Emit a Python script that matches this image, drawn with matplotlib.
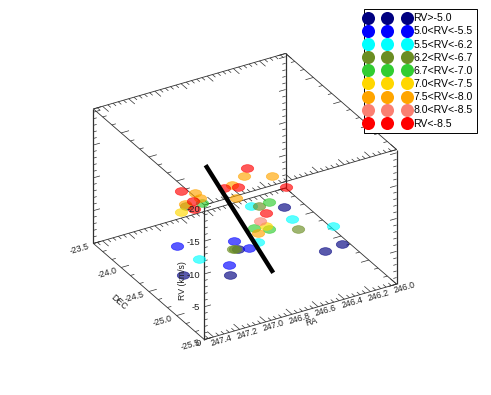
import numpy as np
import matplotlib
matplotlib.use('Agg')
import matplotlib.pyplot as plt
from matplotlib.lines import Line2D
from matplotlib.path import Path
from matplotlib.transforms import Affine2D
from matplotlib.legend_handler import HandlerLine2D
from mpl_toolkits.mplot3d import proj3d

plt.rcParams['font.family'] = ['Liberation Sans', 'DejaVu Sans']

# values, one group for each RV class
labels = ['RV>-5.0', '5.0<RV<-5.5', '5.5<RV<-6.2', '6.2<RV<-6.7', '6.7<RV<-7.0',
          '7.0<RV<-7.5', '7.5<RV<-8.0', '8.0<RV<-8.5', 'RV<-8.5']
colors = ['navy', 'blue', 'cyan', 'olivedrab', 'limegreen', 'gold', 'orange', 'salmon', 'red']

navy_ra = [246.33, 246.87, 246.24, 246.39, 247.09, 247.36]
navy_dec = [-24.25, -24.70, -25.09, -25.13, -25.07, -24.85]
navy_rv = [-4.5, -4.5, -4.5, -4.5, -4.5, -4.5]

blue_ra = [246.87, 247.23, 246.83, 247.06]
blue_dec = [-24.62, -24.45, -24.80, -24.97]
blue_rv = [-5.2, -5.2, -5.2, -5.2]

cyan_ra = [246.57, 246.42, 246.77, 246.23, 247.22]
cyan_dec = [-24.22, -24.60, -24.82, -24.90, -24.82]
cyan_rv = [-5.8, -5.8, -5.8, -5.8, -5.8]

olive_ra = [246.97, 246.55, 246.48, 246.98, 246.97]
olive_dec = [-23.99, -24.32, -24.86, -24.87, -24.88]
olive_rv = [-6.4, -6.4, -6.4, -6.4, -6.4]

lime_ra = [246.87, 246.48, 246.66, 246.74]
lime_dec = [-24.05, -24.34, -24.76, -24.68]
lime_rv = [-6.8, -6.8, -6.8, -6.8]

gold_ra = [247.07, 246.68]
gold_dec = [-24.14, -24.75]
gold_rv = [-7.2, -7.2]

orange_ra = [246.50, 246.34, 246.63, 246.89, 246.90, 247.02, 246.69, 246.80]
orange_dec = [-23.93, -24.05, -24.01, -23.97, -24.07, -24.09, -24.24, -24.88]
orange_rv = [-7.8, -7.8, -7.8, -7.8, -7.8, -7.8, -7.8, -7.8]

salmon_ra = [246.72]
salmon_dec = [-24.74]
salmon_rv = [-8.2]

red_ra = [246.48, 246.75, 246.66, 246.38, 247.01, 247.01, 247.06, 246.67]
red_dec = [-23.94, -24.15, -24.20, -24.40, -23.99, -24.21, -24.34, -24.73]
red_rv = [-9.0, -9.0, -9.0, -9.0, -9.0, -9.0, -9.0, -9.0]

groups = [(navy_ra, navy_dec, navy_rv), (blue_ra, blue_dec, blue_rv), (cyan_ra, cyan_dec, cyan_rv),
          (olive_ra, olive_dec, olive_rv), (lime_ra, lime_dec, lime_rv), (gold_ra, gold_dec, gold_rv),
          (orange_ra, orange_dec, orange_rv), (salmon_ra, salmon_dec, salmon_rv), (red_ra, red_dec, red_rv)]

# thick black line
line_ra = [246.96, 246.85]
line_dec = [-24.32, -25.28]
line_rv = [-15.0, -5.0]

ra_ticks = [247.4, 247.2, 247.0, 246.8, 246.6, 246.4, 246.2, 246.0]
dec_ticks = [-23.5, -24.0, -24.5, -25.0, -25.5]
rv_ticks = [0, -5, -10, -15, -20]

ra_lim = (247.47, 246.0)
dec_lim = (-25.5, -23.5)
rv_lim = (0, -20.5)

fig = plt.figure(figsize=(4.91, 3.95), dpi=100)
ax = fig.add_axes([70.4 / 491, 23.9 / 395, 340 / 491, 340 / 395], projection='3d', proj_type='ortho')
ax.computed_zorder = False
ax.set_box_aspect((1, 1, 0.7))
ax.view_init(elev=30, azim=-120)
ax.set_xlim(ra_lim)
ax.set_ylim(dec_lim)
ax.set_zlim(rv_lim)
ax.set_axis_off()

line_col = '#303030'


def seg(x, y, z, lw=0.6):
    ax.plot(x, y, z, color=line_col, lw=lw, zorder=1, solid_capstyle='butt')


def label(x, y, z, s, size, rot=0, ha='center'):
    # 3d text ignores rotation, so go through the 2d position
    px, py, _ = proj3d.proj_transform(x, y, z, ax.get_proj())
    ax.text2D(px, py, s, transform=ax.transData, fontsize=size, rotation=rot, ha=ha, va='center',
              rotation_mode='anchor', color='#202020', zorder=4)


# the box
r0, r1 = ra_lim
d0, d1 = dec_lim
z0, z1 = rv_lim
for z in (z0, z1):
    seg([r0, r1], [d0, d0], [z, z])
    seg([r0, r1], [d1, d1], [z, z])
    seg([r0, r0], [d0, d1], [z, z])
    seg([r1, r1], [d0, d1], [z, z])
for r in (r0, r1):
    for d in (d0, d1):
        seg([r, r], [d, d], [z0, z1], lw=0.9)

# ticks on every edge, pointing into the box
for z in (z0, z1):
    for d, sign in ((d0, 1), (d1, -1)):
        for i, r in enumerate(np.arange(246.0, 247.47, 0.04)):
            ln = 0.11 if i % 5 == 0 else 0.055
            seg([r, r], [d, d + sign * ln], [z, z], lw=0.5)
    for r, sign in ((r0, -1), (r1, 1)):
        for i, d in enumerate(np.arange(-25.5, -23.49, 0.5 / 3)):
            ln = 0.06 if i % 3 == 0 else 0.03
            seg([r, r + sign * ln], [d, d], [z, z], lw=0.5)
for r, sign in ((r0, -1), (r1, 1)):
    for d in (d0, d1):
        for v in range(0, -21, -1):
            ln = 0.05 if v % 5 == 0 else 0.025
            seg([r, r + sign * ln], [d, d], [v, v], lw=0.5)

# the stars, flat ellipses
ellipse = Path.unit_circle().transformed(Affine2D().scale(1, 0.62))
for (ra, dec, rv), c in zip(groups, colors):
    ax.scatter(ra, dec, rv, marker=ellipse, s=80, color=c, alpha=0.65, linewidths=0.5,
               depthshade=False, zorder=2)

ax.plot(line_ra, line_dec, line_rv, color='black', lw=3.2, zorder=3, solid_capstyle='butt')

# tick labels and axis titles
fs = 6.3
for r in ra_ticks:
    label(r, -25.64, -0.44, f'{r:.1f}', fs, rot=16)
for d in dec_ticks:
    label(247.577, d, 0.15, f'{d:.1f}', fs, rot=16)
for v in rv_ticks:
    label(247.50, -25.5, v + 0.4 if v == 0 else v, str(v), fs + 0.5, ha='right')
label(246.735, -25.7, 0, 'RA', fs, rot=16)
label(247.70, -24.5, 0.3, 'DEC', fs, rot=-41)
label(247.64, -25.5, -10, 'RV (km/s)', fs, rot=90)

# legend
handles = [Line2D([], [], ls='none', marker='o', ms=9.4, mfc=c, mec=c, mew=0) for c in colors]
leg = fig.legend(handles, labels, loc='upper left', bbox_to_anchor=(364 / 491, 1 - 9 / 395),
                 borderaxespad=0, numpoints=3, fontsize=7.6, frameon=True, fancybox=False,
                 framealpha=1, edgecolor='black', borderpad=0.4, handlelength=3.64,
                 handletextpad=0.63, labelspacing=0.3,
                 handler_map={Line2D: HandlerLine2D(marker_pad=-0.02)})
leg.get_frame().set_linewidth(0.7)

fig.savefig('out.png', dpi=100)
